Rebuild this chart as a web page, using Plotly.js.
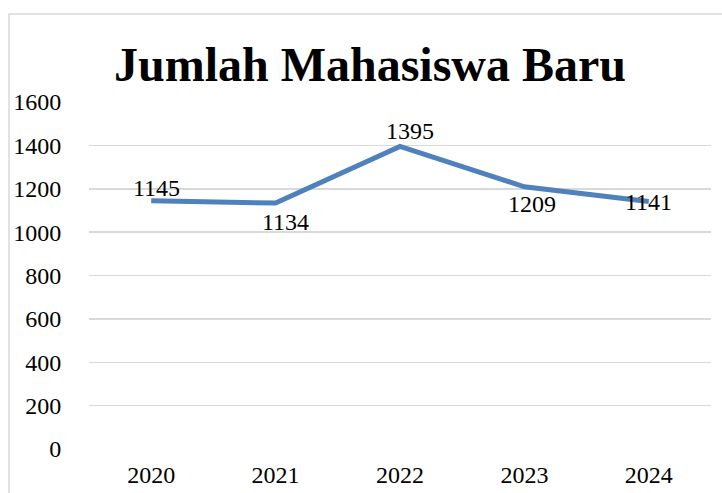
<!DOCTYPE html>
<html>
<head>
<meta charset="utf-8">
<script src="https://cdn.plot.ly/plotly-3.0.1.min.js"></script>
<style>
html,body{margin:0;padding:0;background:#fff;}
#chart{width:722px;height:493px;}
</style>
</head>
<body>
<div id="chart"></div>
<script>
var years = ['2020', '2021', '2022', '2023', '2024'];
var students = [1145, 1134, 1395, 1209, 1141];
var yTicks = [0, 200, 400, 600, 800, 1000, 1200, 1400, 1600];

// label placement (pixel offsets from each point)
var labelDX = [5, 10, 10, 8, 0];
var labelDY = [13, -19, 15, -17, 0];

var FONT = 'Liberation Serif, Times New Roman, serif';

var annotations = years.map(function (yr, i) {
  return {
    x: i, y: students[i], xref: 'x', yref: 'y',
    text: String(students[i]), showarrow: false,
    xshift: labelDX[i], yshift: labelDY[i],
    font: {family: FONT, size: 24, color: '#000'}
  };
});

var trace = {
  x: years, y: students, type: 'scatter', mode: 'lines',
  line: {color: '#4F81BD', width: 5},
  hoverinfo: 'none'
};

var layout = {
  width: 722, height: 493,
  margin: {l: 89, r: 11, t: 102, b: 44},
  paper_bgcolor: '#fff', plot_bgcolor: '#fff',
  showlegend: false,
  title: {
    text: '<b>Jumlah Mahasiswa Baru</b>',
    font: {family: FONT, size: 48, color: '#000'},
    x: 370 / 722, xref: 'container', xanchor: 'center',
    y: 1 - 64 / 493, yref: 'container', yanchor: 'middle'
  },
  xaxis: {
    type: 'category', range: [-0.5, years.length - 0.5],
    showgrid: false, zeroline: false, showline: false,
    ticks: 'outside', ticklen: 4, tickcolor: 'rgba(0,0,0,0)',
    tickfont: {family: FONT, size: 24, color: '#000'}
  },
  yaxis: {
    range: [0, 1600], tickvals: yTicks, ticktext: yTicks.map(String),
    showgrid: true, gridcolor: '#d9d9d9', gridwidth: 1.5,
    zeroline: false, showline: false,
    ticks: 'outside', ticklen: 22, tickcolor: 'rgba(0,0,0,0)',
    tickfont: {family: FONT, size: 24, color: '#000'}
  },
  annotations: annotations,
  shapes: [{
    type: 'rect', xref: 'paper', yref: 'paper', layer: 'below',
    x0: (9 - 89) / 622, x1: 1.05, y0: -0.3, y1: (449 - 14) / 347,
    line: {color: '#d9d9d9', width: 1.5}
  }]
};

Plotly.newPlot('chart', [trace], layout, {displayModeBar: false, staticPlot: true});
</script>
</body>
</html>
